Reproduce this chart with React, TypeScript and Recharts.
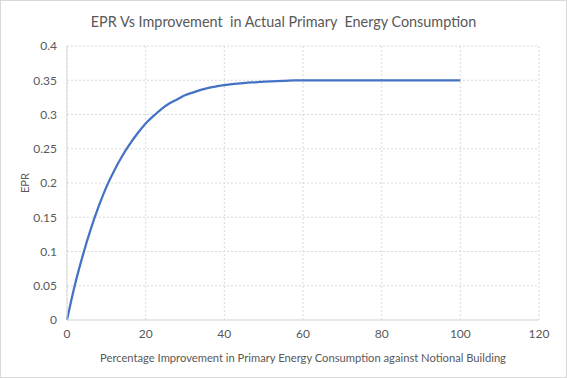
import React from 'react';
import { LineChart, Line, XAxis, YAxis, CartesianGrid, Label } from 'recharts';

const improvement = [0, 2, 4, 6, 8, 10, 12, 14, 16, 18, 20, 22, 24, 26, 28, 30, 32, 34, 36, 38, 40, 42, 44, 46, 48, 50, 52, 55, 58, 100];
const epr = [0, 0.051, 0.094, 0.132, 0.165, 0.194, 0.218, 0.239, 0.257, 0.273, 0.287, 0.298, 0.308, 0.316, 0.322, 0.328, 0.332, 0.336, 0.339, 0.341, 0.343, 0.3445, 0.3455, 0.3465, 0.347, 0.348, 0.3485, 0.349, 0.35, 0.35];
const xTicks = [0, 20, 40, 60, 80, 100, 120];
const yTicks = [0, 0.05, 0.1, 0.15, 0.2, 0.25, 0.3, 0.35, 0.4];

const title = 'EPR Vs Improvement\u00a0 in Actual Primary\u00a0 Energy Consumption';
const xLabel = 'Percentage Improvement in Primary Energy Consumption against Notional Building';
const yLabel = 'EPR';

const data = improvement.map((x, i) => ({ x, epr: epr[i] }));

const FONT = 'Lato, "Open Sans", sans-serif';
const TEXT = '#595959';

export default function App() {
  return (
    <div style={{ position: 'absolute', left: 0, top: 0, width: 567, height: 378, background: '#fff', fontFamily: FONT }}>
      <div style={{ position: 'absolute', inset: 0, border: '1px solid #d9d9d9', boxSizing: 'border-box', pointerEvents: 'none' }} />
      <div style={{ position: 'absolute', left: 0, top: 13, width: 567, textAlign: 'center', fontSize: 14.4, color: TEXT, whiteSpace: 'pre' }}>{title}</div>
      <LineChart width={567} height={378} data={data} margin={{ top: 46, right: 28, bottom: 0, left: 0 }}>
        <CartesianGrid stroke="#d9d9d9" strokeDasharray="2 2" />
        <XAxis
          dataKey="x"
          type="number"
          domain={[0, 120]}
          ticks={xTicks}
          height={58}
          tickLine={false}
          axisLine={{ stroke: '#d9d9d9' }}
          tick={{ fill: TEXT, fontSize: 12, fontFamily: FONT }}
          tickSize={4}
          tickMargin={5}
        >
          <Label value={xLabel} position="insideBottom" offset={16} style={{ fill: TEXT, fontSize: 11.2, fontFamily: FONT }} />
        </XAxis>
        <YAxis
          type="number"
          domain={[0, 0.4]}
          ticks={yTicks}
          width={67}
          tickLine={false}
          axisLine={{ stroke: '#d9d9d9' }}
          tick={{ fill: TEXT, fontSize: 12, fontFamily: FONT }}
          tickSize={4}
          tickMargin={6}
          interval={0}
        >
          <Label value={yLabel} angle={-90} position="insideLeft" offset={25} style={{ fill: TEXT, fontSize: 11.2, fontFamily: FONT, textAnchor: 'middle' }} />
        </YAxis>
        <Line type="monotone" dataKey="epr" stroke="#4472C4" strokeWidth={2.25} dot={false} isAnimationActive={false} />
      </LineChart>
    </div>
  );
}
